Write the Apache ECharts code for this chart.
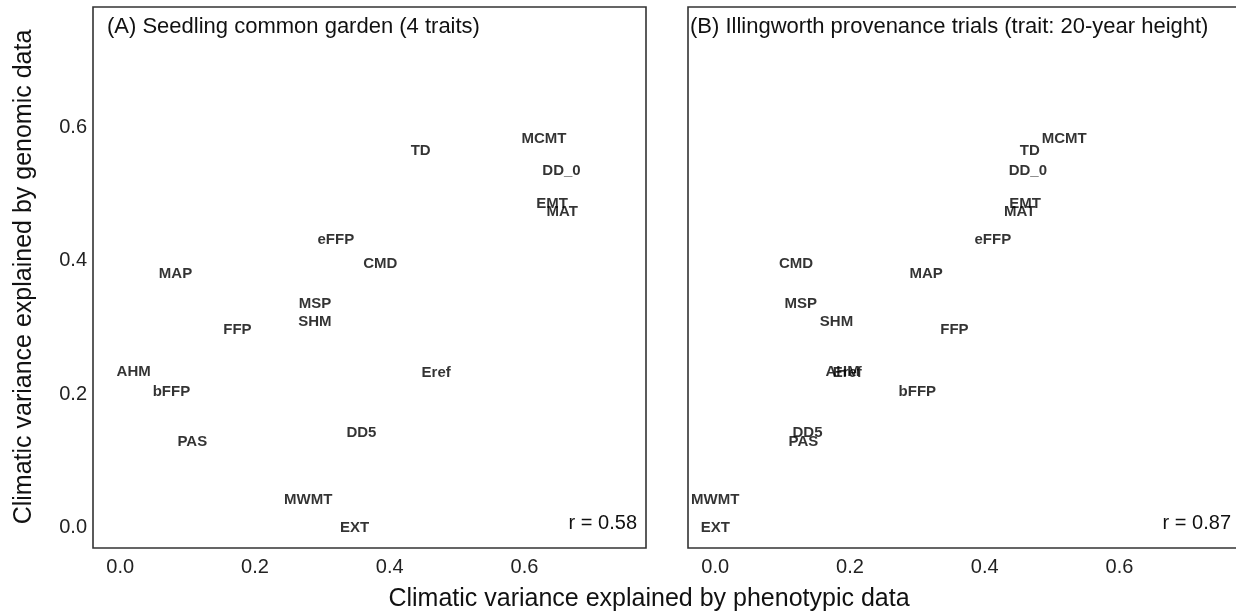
<!DOCTYPE html>
<html>
<head>
<meta charset="utf-8">
<style>
  html, body { margin: 0; padding: 0; background: #ffffff; overflow: hidden; }
  #chart { width: 1260px; height: 616px; }
</style>
<script src="https://cdn.jsdelivr.net/npm/echarts@6/dist/echarts.min.js"></script>
</head>
<body>
<div id="chart"></div>
<script>
// Climate variables shown as text labels
const variables = ['MCMT', 'TD', 'DD_0', 'EMT', 'MAT', 'eFFP', 'CMD', 'MAP', 'MSP', 'SHM',
                   'FFP', 'AHM', 'Eref', 'bFFP', 'DD5', 'PAS', 'MWMT', 'EXT'];

// Climatic variance explained by genomic data (shared by both panels)
const genomic = [0.583, 0.565, 0.534, 0.485, 0.473, 0.431, 0.396, 0.380, 0.336, 0.308,
                 0.296, 0.233, 0.232, 0.204, 0.143, 0.129, 0.042, 0.000];

// Climatic variance explained by phenotypic data, seedling common garden
const phenoSeedling = [0.629, 0.446, 0.655, 0.641, 0.656, 0.320, 0.386, 0.082, 0.289, 0.289,
                       0.174, 0.020, 0.469, 0.076, 0.358, 0.107, 0.279, 0.348];

// Climatic variance explained by phenotypic data, Illingworth provenance trials
const phenoIllingworth = [0.518, 0.467, 0.464, 0.460, 0.452, 0.412, 0.120, 0.313, 0.127, 0.180,
                          0.355, 0.189, 0.196, 0.300, 0.137, 0.131, 0.000, 0.000];

const panelTitles = ['(A) Seedling common garden (4 traits)',
                     '(B) Illingworth provenance trials (trait: 20-year height)'];
const correlations = ['r = 0.58', 'r = 0.87'];
const tickValues = [0.0, 0.2, 0.4, 0.6];
const xTitle = 'Climatic variance explained by phenotypic data';
const yTitle = 'Climatic variance explained by genomic data';

const FONT = '"Liberation Sans", Arial, Helvetica, sans-serif';
const INK = '#111';

function points(xs) {
  return variables.map((name, i) => ({ name: name, value: [xs[i], genomic[i]] }));
}

const xRange = { min: -0.0404, max: 0.7804 };
const yRange = { min: -0.03, max: 0.78 };

function xAxisFor(gridIndex) {
  return {
    type: 'value', gridIndex: gridIndex,
    min: xRange.min, max: xRange.max,
    splitLine: { show: false }, axisTick: { show: false }, axisLine: { show: false },
    axisLabel: {
      fontFamily: FONT, fontSize: 20, color: '#222', margin: 9,
      customValues: tickValues,
      formatter: v => v.toFixed(1)
    }
  };
}

function yAxisFor(gridIndex, showLabels) {
  return {
    type: 'value', gridIndex: gridIndex,
    min: yRange.min, max: yRange.max,
    splitLine: { show: false }, axisTick: { show: false }, axisLine: { show: false },
    axisLabel: {
      show: showLabels,
      fontFamily: FONT, fontSize: 20, color: '#222', margin: 6,
      customValues: tickValues,
      formatter: v => v.toFixed(1)
    }
  };
}

function labelSeries(index, xs) {
  return {
    type: 'scatter', xAxisIndex: index, yAxisIndex: index,
    data: points(xs),
    symbol: 'circle', symbolSize: 1,
    itemStyle: { color: 'rgba(0,0,0,0)' },
    silent: true,
    label: {
      show: true, position: 'inside', formatter: '{b}',
      fontFamily: FONT, fontSize: 15, fontWeight: 'bold', color: '#000'
    },
    labelLayout: { hideOverlap: false }
  };
}

const chart = echarts.init(document.getElementById('chart'), null, { renderer: 'canvas' });

chart.setOption({
  backgroundColor: '#ffffff',
  animation: false,
  grid: [
    { left: 93, top: 7, width: 553, height: 541, show: true, borderColor: '#333', borderWidth: 1.6, backgroundColor: 'transparent' },
    { left: 688, top: 7, width: 553, height: 541, show: true, borderColor: '#333', borderWidth: 1.6, backgroundColor: 'transparent' }
  ],
  xAxis: [xAxisFor(0), xAxisFor(1)],
  yAxis: [yAxisFor(0, true), yAxisFor(1, false)],
  series: [labelSeries(0, phenoSeedling), labelSeries(1, phenoIllingworth)],
  graphic: [
    { type: 'text', x: 107, y: 27, style: { text: panelTitles[0], font: '22px ' + FONT, fill: INK, textAlign: 'left', textVerticalAlign: 'middle' } },
    { type: 'text', x: 690, y: 27, style: { text: panelTitles[1], font: '22px ' + FONT, fill: INK, textAlign: 'left', textVerticalAlign: 'middle' } },
    { type: 'text', x: 637, y: 523, style: { text: correlations[0], font: '20px ' + FONT, fill: INK, textAlign: 'right', textVerticalAlign: 'middle' } },
    { type: 'text', x: 1231, y: 523, style: { text: correlations[1], font: '20px ' + FONT, fill: INK, textAlign: 'right', textVerticalAlign: 'middle' } },
    { type: 'text', x: 649, y: 599, style: { text: xTitle, font: '25px ' + FONT, fill: INK, textAlign: 'center', textVerticalAlign: 'middle' } },
    { type: 'text', x: 24, y: 277, rotation: Math.PI / 2, style: { text: yTitle, font: '25px ' + FONT, fill: INK, textAlign: 'center', textVerticalAlign: 'middle' } }
  ]
});
</script>
</body>
</html>
